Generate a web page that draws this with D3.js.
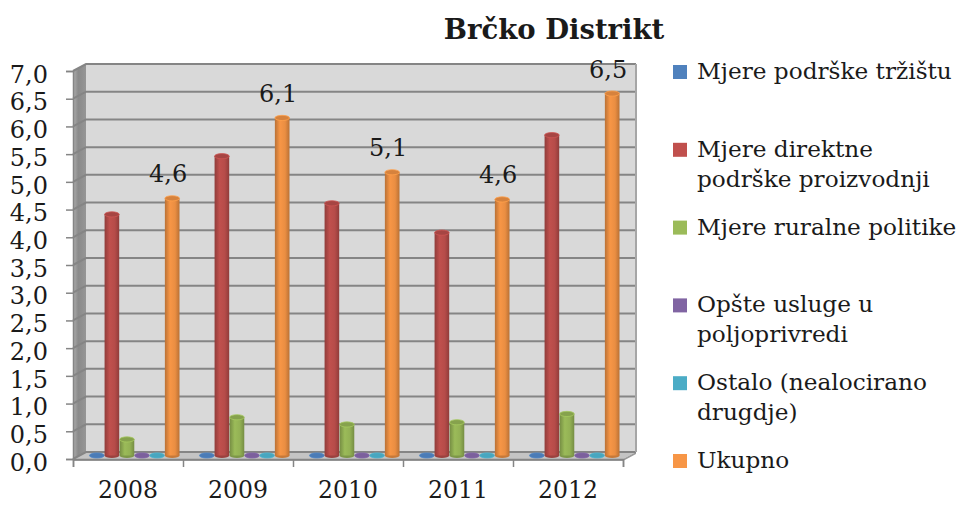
<!DOCTYPE html>
<html>
<head>
<meta charset="utf-8">
<script src="https://cdn.jsdelivr.net/npm/d3@7"></script>
<style>
  body { margin: 0; background: #fff; }
  text { font-family: "DejaVu Serif", serif; fill: #1a1a1a; }
</style>
</head>
<body>
<div id="chart"></div>
<script>
// values (mil. KM)
const years = ["2008", "2009", "2010", "2011", "2012"];
const trziste  = [0, 0, 0, 0, 0];
const direktne = [4.35, 5.40, 4.55, 4.02, 5.78];
const ruralne  = [0.29, 0.69, 0.56, 0.60, 0.75];
const opste    = [0, 0, 0, 0, 0];
const ostalo   = [0, 0, 0, 0, 0];
const ukupno   = [4.64, 6.09, 5.11, 4.62, 6.53];
const yTicks = [0, 0.5, 1, 1.5, 2, 2.5, 3, 3.5, 4, 4.5, 5, 5.5, 6, 6.5, 7];
const legendLines = [
    ["Mjere podrške tržištu"],
    ["Mjere direktne", "podrške proizvodnji"],
    ["Mjere ruralne politike"],
    ["Opšte usluge u", "poljoprivredi"],
    ["Ostalo (nealocirano", "drugdje)"],
    ["Ukupno"]
];
const colors = ["#4F81BD", "#C0504D", "#9BBB59", "#8064A2", "#4BACC6", "#F79646"];

const series = [trziste, direktne, ruralne, opste, ostalo, ukupno];
const keys = d3.range(series.length);

const width = 965, height = 505;
const dx = 13, dy = 7; // depth of the 3d box

const fmt = d3.formatLocale({decimal: ",", thousands: ".", grouping: [3], currency: ["", ""]}).format(".1f");

const x = d3.scaleBand().domain(years).range([73, 623]);
const x1 = d3.scaleBand().domain(keys).range([10, 100]).paddingInner(0.03);
const y = d3.scaleLinear().domain([0, 7]).range([459, 71]);

const svg = d3.select("#chart").append("svg")
    .attr("width", width)
    .attr("height", height);

const defs = svg.append("defs");
colors.forEach((c, i) => {
    const g = defs.append("linearGradient").attr("id", "cyl" + i);
    g.append("stop").attr("offset", "0%").attr("stop-color", d3.color(c).darker(0.8));
    g.append("stop").attr("offset", "35%").attr("stop-color", c);
    g.append("stop").attr("offset", "70%").attr("stop-color", d3.color(c).darker(0.15));
    g.append("stop").attr("offset", "100%").attr("stop-color", d3.color(c).darker(0.8));
});
const wallGrad = defs.append("linearGradient").attr("id", "leftwall");
wallGrad.append("stop").attr("offset", "0%").attr("stop-color", "#b0b0b0");
wallGrad.append("stop").attr("offset", "40%").attr("stop-color", "#8a8a8a");
wallGrad.append("stop").attr("offset", "100%").attr("stop-color", "#969696");

// walls
const x0 = x.range()[0], xEnd = x.range()[1];
svg.append("rect")
    .attr("x", x0 + dx).attr("y", y(7) - dy)
    .attr("width", xEnd - x0).attr("height", y(0) - y(7))
    .attr("fill", "#d9d9d9");
svg.append("polygon")
    .attr("points", [[x0, y(7)], [x0 + dx, y(7) - dy], [x0 + dx, y(0) - dy], [x0, y(0)]].join(" "))
    .attr("fill", "url(#leftwall)");
svg.append("polygon")
    .attr("points", [[x0, y(0)], [x0 + dx, y(0) - dy], [xEnd + dx, y(0) - dy], [xEnd, y(0)]].join(" "))
    .attr("fill", "#c4c4c4");
svg.append("polygon")
    .attr("points", [[x0, y(0)], [xEnd, y(0)], [xEnd + dx, y(0) - dy], [xEnd + dx, y(0) - dy + 2], [xEnd, y(0) + 2], [x0, y(0) + 2]].join(" "))
    .attr("fill", "#9a9a9a");

// gridlines
const grid = svg.append("g").attr("stroke", "#858585").attr("stroke-width", 2).attr("fill", "none");
grid.selectAll("polyline")
    .data(yTicks)
    .join("polyline")
    .attr("points", d => [[x0, y(d)], [x0 + dx, y(d) - dy], [xEnd + dx, y(d) - dy]].join(" "));
grid.append("line")
    .attr("x1", xEnd + dx).attr("x2", xEnd + dx)
    .attr("y1", y(7) - dy).attr("y2", y(0) - dy)
    .attr("stroke", "#a6a6a6");

// cylinders
const ry = 2.6;
const cat = svg.append("g")
    .selectAll("g")
    .data(years)
    .join("g")
    .attr("transform", d => `translate(${x(d) + dx / 2},${-dy / 2})`);

const bar = cat.selectAll("g")
    .data((d, j) => keys.map(k => ({k: k, v: series[k][j]})))
    .join("g");

bar.append("ellipse")
    .attr("cx", d => x1(d.k) + x1.bandwidth() / 2)
    .attr("cy", y(0))
    .attr("rx", x1.bandwidth() / 2)
    .attr("ry", ry)
    .attr("fill", d => d3.color(colors[d.k]).darker(0.6));
bar.filter(d => d.v > 0).append("rect")
    .attr("x", d => x1(d.k))
    .attr("y", d => y(d.v))
    .attr("width", x1.bandwidth())
    .attr("height", d => y(0) - y(d.v))
    .attr("fill", d => `url(#cyl${d.k})`);
bar.append("ellipse")
    .attr("cx", d => x1(d.k) + x1.bandwidth() / 2)
    .attr("cy", d => y(d.v))
    .attr("rx", x1.bandwidth() / 2)
    .attr("ry", ry)
    .attr("fill", d => d3.color(colors[d.k]).darker(d.v > 0 ? 0.4 : 0.1))
    .attr("stroke", d => d3.color(colors[d.k]).brighter(0.2))
    .attr("stroke-width", 0.8);

// data labels on the total
cat.append("text")
    .attr("x", x1(5) + x1.bandwidth() / 2 - 4)
    .attr("y", (d, j) => y(ukupno[j]) - 16)
    .attr("text-anchor", "middle")
    .attr("font-size", 24)
    .text((d, j) => fmt(ukupno[j]));

// y axis
const yAxis = svg.append("g")
    .attr("transform", `translate(${x0},0)`)
    .call(d3.axisLeft(y).tickValues(yTicks).tickSize(7).tickPadding(18).tickFormat(fmt));
yAxis.selectAll("text").attr("font-size", 24).attr("font-family", "DejaVu Serif").attr("fill", "#1a1a1a").attr("dy", "0.47em");
yAxis.selectAll("line, path").attr("stroke", "#858585").attr("stroke-width", 1.5);

// x axis: boundary ticks + year labels
const xb = d3.scaleLinear().domain([0, years.length]).range([x0, xEnd]);
const xTickAxis = svg.append("g")
    .attr("transform", `translate(0,${y(0)})`)
    .call(d3.axisBottom(xb).ticks(years.length).tickSize(8).tickFormat(""));
xTickAxis.selectAll("line, path").attr("stroke", "#858585").attr("stroke-width", 1.5);

const xAxis = svg.append("g")
    .attr("transform", `translate(0,${y(0)})`)
    .call(d3.axisBottom(x).tickSize(0).tickPadding(22));
xAxis.select(".domain").remove();
xAxis.selectAll("text").attr("font-size", 23.5).attr("font-family", "DejaVu Serif").attr("fill", "#1a1a1a");

// title
svg.append("text")
    .attr("x", 554)
    .attr("y", 39)
    .attr("text-anchor", "middle")
    .attr("font-size", 27.5)
    .attr("font-weight", "bold")
    .text("Brčko Distrikt");

// legend
const legend = svg.append("g")
    .selectAll("g")
    .data(legendLines)
    .join("g")
    .attr("transform", (d, i) => `translate(673,${79 + i * 77.8})`);
legend.append("rect")
    .attr("x", 0).attr("y", -14)
    .attr("width", 14).attr("height", 14)
    .attr("fill", (d, i) => colors[i]);
legend.append("text")
    .attr("font-size", 23.2)
    .selectAll("tspan")
    .data(d => d)
    .join("tspan")
    .attr("x", 24)
    .attr("y", (d, i) => i * 30)
    .text(d => d);
</script>
</body>
</html>
